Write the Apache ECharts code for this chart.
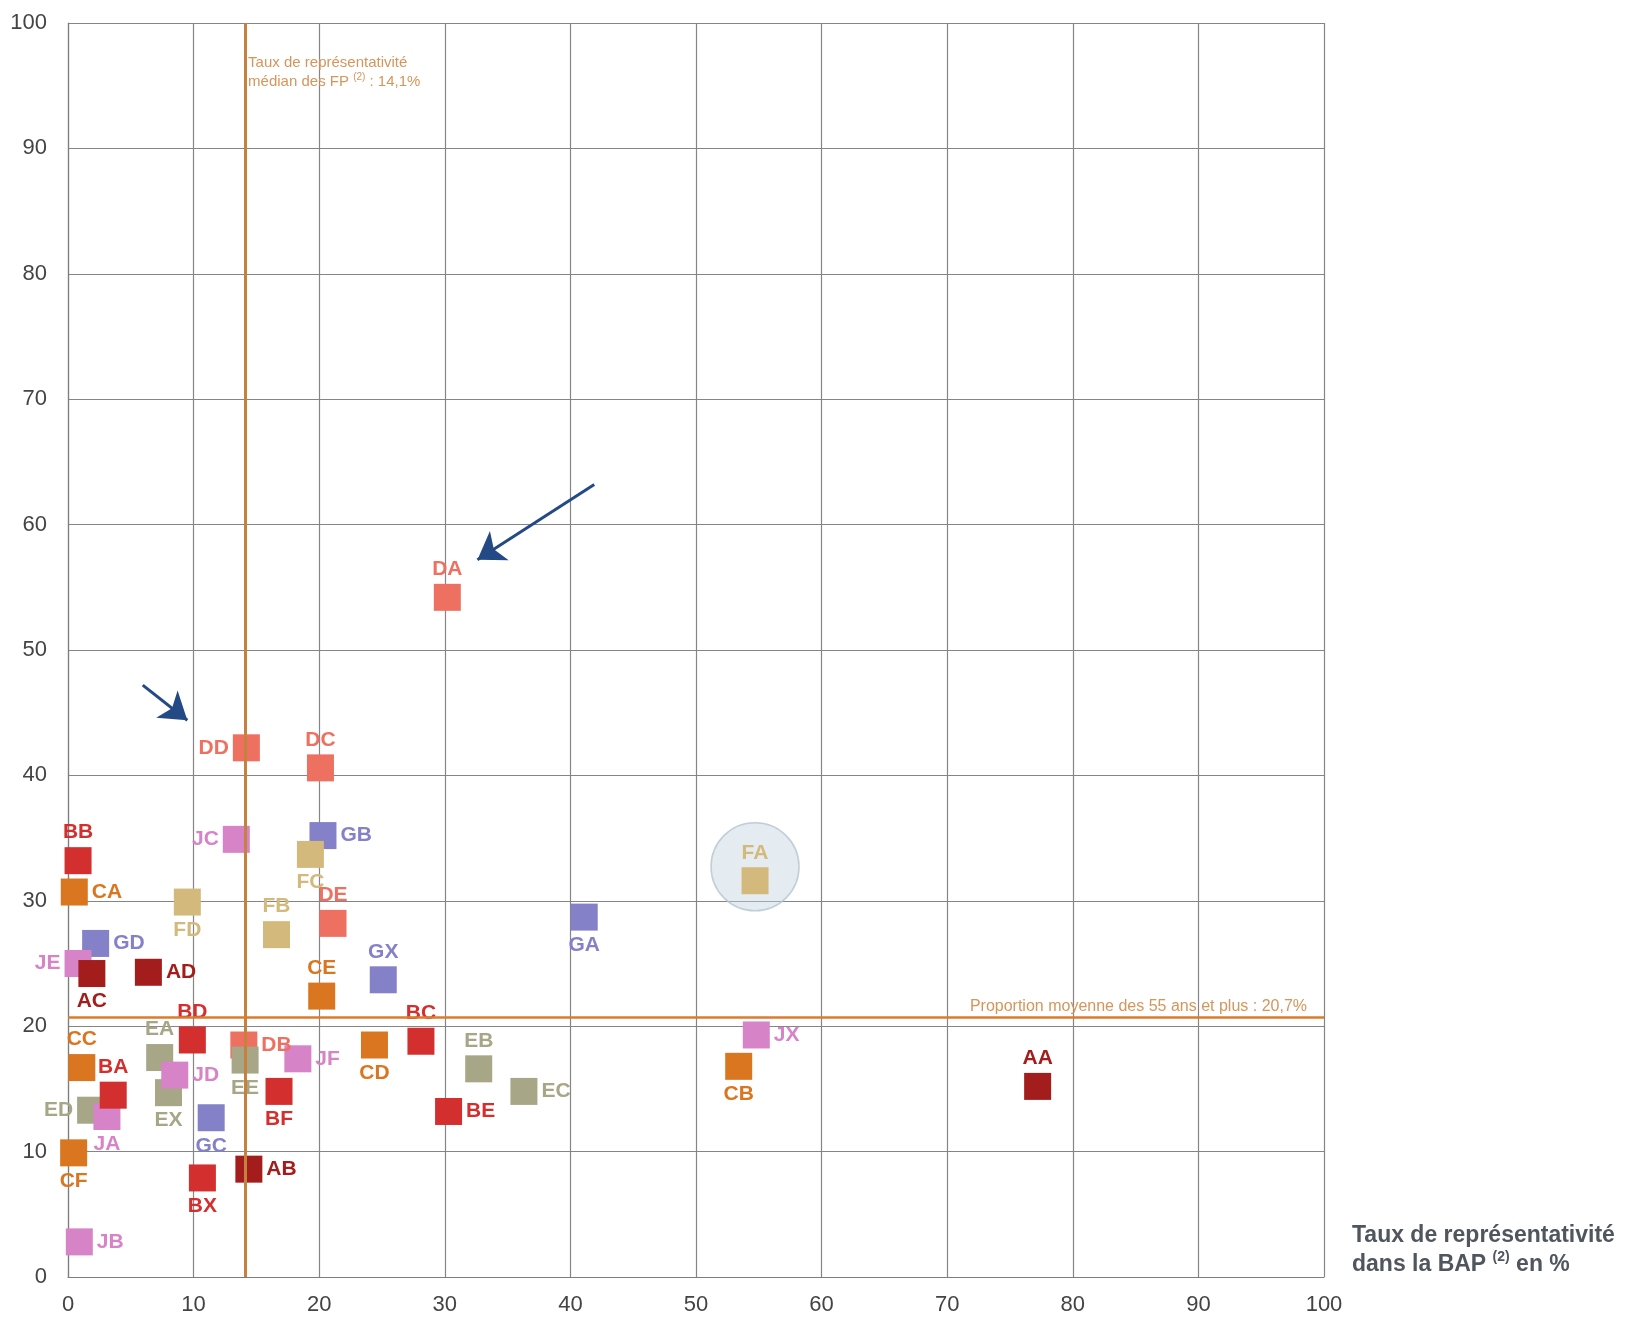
<!DOCTYPE html>
<html>
<head>
<meta charset="utf-8">
<script src="https://cdn.jsdelivr.net/npm/echarts@6/dist/echarts.min.js"></script>
<style>
    html, body { margin: 0; padding: 0; background: #fff; }
    #chart { width: 1631px; height: 1319px; }
</style>
</head>
<body>
<div id="chart"></div>
<script>
    // codes des familles professionnelles
    const codes = ['DA', 'DD', 'DC', 'JC', 'GB', 'FC', 'BB', 'CA', 'FD', 'FB', 'DE', 'GA', 'FA', 'GD', 'JE',
        'AC', 'AD', 'GX', 'CE', 'BD', 'DB', 'EE', 'JF', 'CD', 'BC', 'EB', 'EC', 'BE', 'JX', 'CB', 'AA',
        'EA', 'JD', 'EX', 'CC', 'BA', 'ED', 'JA', 'GC', 'BF', 'CF', 'BX', 'AB', 'JB']
    // taux de representativite dans la BAP (%)
    const bapRates = [30.2, 14.2, 20.1, 13.4, 20.3, 19.3, 0.8, 0.5, 9.5, 16.6, 21.1, 41.1, 54.7, 2.2, 0.8,
        1.9, 6.4, 25.1, 20.2, 9.9, 14.0, 14.1, 18.3, 24.4, 28.1, 32.7, 36.3, 30.3, 54.8, 53.4, 77.2,
        7.3, 8.5, 8.0, 1.1, 3.6, 1.8, 3.1, 11.4, 16.8, 0.45, 10.7, 14.4, 0.9]
    // proportion des 55 ans et plus (%)
    const share55 = [54.2, 42.2, 40.6, 34.9, 35.2, 33.7, 33.2, 30.7, 29.9, 27.3, 28.2, 28.7, 31.6, 26.6, 25.0,
        24.2, 24.3, 23.7, 22.4, 18.9, 18.5, 17.3, 17.4, 18.5, 18.8, 16.6, 14.8, 13.2, 19.3, 16.8, 15.2,
        17.5, 16.1, 14.7, 16.7, 14.5, 13.3, 12.8, 12.7, 14.8, 9.9, 7.9, 8.6, 2.8]
    const axisTicks = [0, 10, 20, 30, 40, 50, 60, 70, 80, 90, 100]

    const medianFP = 14.1
    const meanShare55 = 20.7
    const highlighted = 'FA'

    // fleches d'annotation (en unites du graphique)
    const arrowPaths = [
        [[41.9, 63.2], [32.6, 57.2]],
        [[5.95, 47.2], [9.5, 44.4]]
    ]

    const groupOrder = ['G', 'F', 'D', 'E', 'J', 'A', 'B', 'C']
    const groupColors = {
        A: '#a41d1d', B: '#d42f2f', C: '#d9761f', D: '#ee7060',
        E: '#a7a687', F: '#d4b97c', G: '#8481c9', J: '#d783c7'
    }
    const labelPos = {
        DA: 'top', DD: 'left', DC: 'top', JC: 'left', GB: 'right', FC: 'bottom', BB: 'top', CA: 'right',
        FD: 'bottom', FB: 'top', DE: 'top', GA: 'bottom', FA: 'top', GD: 'right', JE: 'left', AC: 'bottom',
        AD: 'right', GX: 'top', CE: 'top', BD: 'top', DB: 'right', EE: 'bottom', JF: 'right', CD: 'bottom',
        BC: 'top', EB: 'top', EC: 'right', BE: 'right', JX: 'right', CB: 'bottom', AA: 'top', EA: 'top',
        JD: 'right', EX: 'bottom', CC: 'top', BA: 'top', ED: 'left', JA: 'bottom', GC: 'bottom', BF: 'bottom',
        CF: 'bottom', BX: 'bottom', AB: 'right', JB: 'right'
    }

    const narrow = '"Liberation Sans Narrow", "Arial Narrow", "Liberation Sans", Arial, sans-serif'

    const series = []

    // cercle de mise en evidence
    const hi = codes.indexOf(highlighted)
    series.push({
        type: 'scatter',
        z: 1,
        silent: true,
        clip: false,
        symbol: 'circle',
        symbolSize: 88,
        symbolOffset: [0, -14],
        itemStyle: { color: 'rgba(196,212,224,0.55)', borderColor: '#b3c4d0', borderWidth: 1.5 },
        data: [[bapRates[hi], share55[hi]]]
    })

    // lignes de reference
    series.push({
        type: 'scatter',
        z: 2,
        data: [],
        markLine: {
            silent: true,
            symbol: 'none',
            animation: false,
            data: [
                {
                    xAxis: medianFP,
                    lineStyle: { color: '#c5823f', width: 3, type: 'solid' },
                    label: { show: false }
                },
                {
                    yAxis: meanShare55,
                    lineStyle: { color: '#db7c2c', width: 2.5, type: 'solid' },
                    label: {
                        show: true,
                        position: 'insideEndTop',
                        distance: [17, 3],
                        formatter: 'Proportion moyenne des 55 ans et plus : 20,7%',
                        color: '#d6955a',
                        fontSize: 16,
                        fontFamily: narrow
                    }
                }
            ]
        },
        markPoint: {
            silent: true,
            symbol: 'circle',
            symbolSize: 0,
            animation: false,
            data: [{
                coord: [medianFP, 96.1],
                label: {
                    show: true,
                    position: 'right',
                    distance: 3,
                    align: 'left',
                    formatter: 'Taux de représentativité\nmédian des FP {sup|(2)} : 14,1%',
                    color: '#d6955a',
                    fontSize: 15,
                    lineHeight: 19,
                    fontFamily: narrow,
                    rich: {
                        sup: { fontSize: 10, verticalAlign: 'top', color: '#d6955a', fontFamily: narrow, lineHeight: 19 }
                    }
                }
            }]
        }
    })

    groupOrder.forEach(function (g) {
        const pts = []
        codes.forEach(function (c, i) {
            if (c[0] !== g) return
            pts.push({
                name: c,
                value: [bapRates[i], share55[i]],
                label: { position: labelPos[c] }
            })
        })
        series.push({
            name: g,
            type: 'scatter',
            z: 3,
            clip: false,
            symbol: 'rect',
            symbolSize: 27,
            itemStyle: { color: groupColors[g], opacity: 1 },
            label: {
                show: true,
                formatter: '{b}',
                color: groupColors[g],
                fontFamily: narrow,
                fontWeight: 'bold',
                fontSize: 21,
                distance: 4
            },
            data: pts
        })
    })

    // fleches
    series.push({
        type: 'lines',
        coordinateSystem: 'cartesian2d',
        z: 5,
        silent: true,
        symbol: ['none', 'arrow'],
        symbolSize: 26,
        lineStyle: { color: '#244a86', width: 3, opacity: 1 },
        data: arrowPaths.map(function (p) { return { coords: p } })
    })

    const chart = echarts.init(document.getElementById('chart'))
    chart.setOption({
        animation: false,
        backgroundColor: '#fff',
        grid: { left: 68, right: 307, top: 23, bottom: 42 },
        xAxis: {
            type: 'value',
            min: axisTicks[0],
            max: axisTicks[axisTicks.length - 1],
            interval: 10,
            name: 'Taux de représentativité\ndans la BAP {sup|(2)} en %',
            nameLocation: 'end',
            nameGap: 28,
            nameTextStyle: {
                align: 'left',
                verticalAlign: 'bottom',
                color: '#4f565e',
                fontFamily: narrow,
                fontWeight: 'bold',
                fontSize: 23,
                lineHeight: 29,
                padding: [0, 0, -2, 0],
                rich: {
                    sup: { fontSize: 14, verticalAlign: 'top', fontWeight: 'bold', color: '#4f565e', fontFamily: narrow, lineHeight: 29 }
                }
            },
            axisLine: { show: true, lineStyle: { color: '#7d7d7d', width: 1.2 } },
            axisTick: { show: false },
            axisLabel: { color: '#444', fontSize: 22, fontFamily: narrow, margin: 17 },
            splitLine: { show: true, lineStyle: { color: '#858585', width: 1.2 } }
        },
        yAxis: {
            type: 'value',
            min: axisTicks[0],
            max: axisTicks[axisTicks.length - 1],
            interval: 10,
            axisLine: { show: true, lineStyle: { color: '#7d7d7d', width: 1.2 } },
            axisTick: { show: false },
            axisLabel: { color: '#444', fontSize: 22, fontFamily: narrow, margin: 21 },
            splitLine: { show: true, lineStyle: { color: '#858585', width: 1.2 } }
        },
        series: series
    })
</script>
</body>
</html>
